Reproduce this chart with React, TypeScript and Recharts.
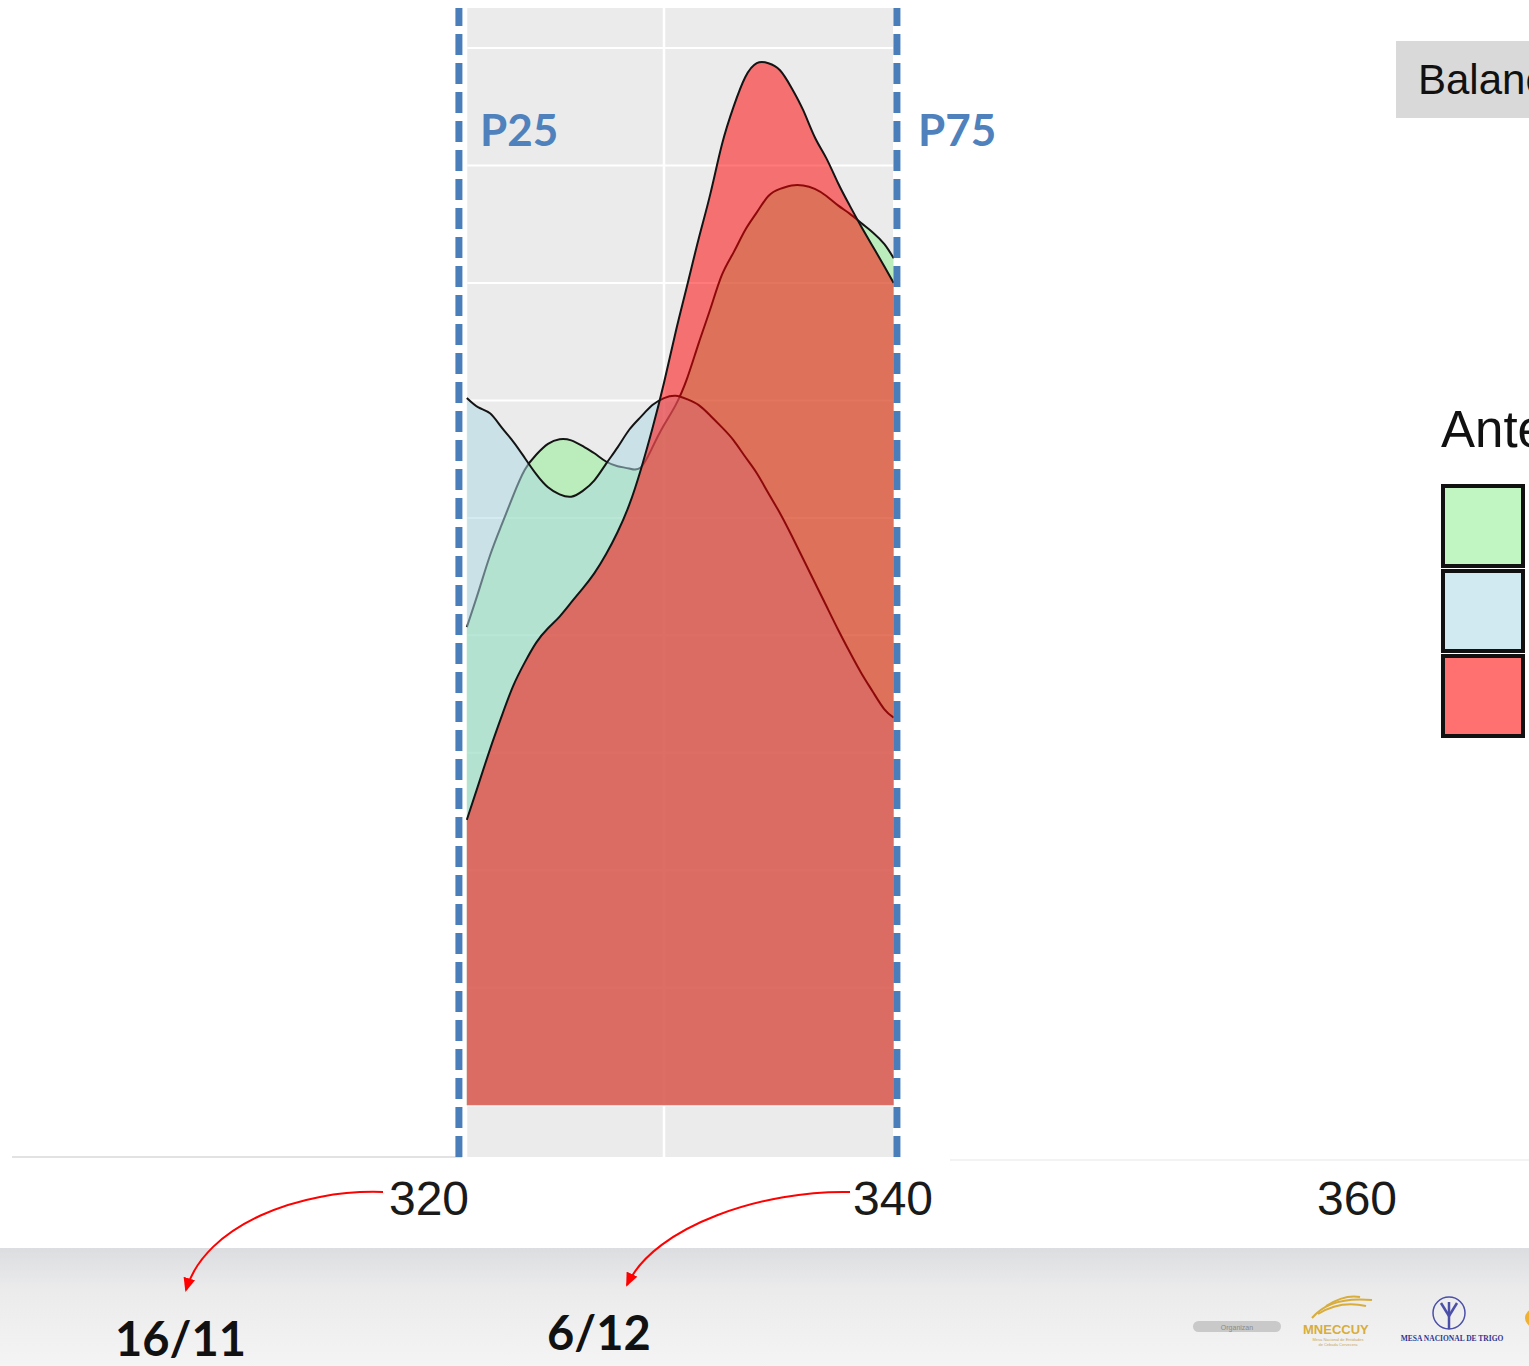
import React from "react";
import {
  ComposedChart,
  Area,
  XAxis,
  YAxis,
  ReferenceArea,
  ReferenceLine,
  Legend,
} from "recharts";

// día del año (eje x) y densidades (x100)
const dias = [
  321.5, 322, 322.5, 323, 323.5, 324, 324.5, 325, 325.5, 326, 326.5, 327, 327.5,
  328, 328.5, 329, 329.5, 330, 330.5, 331, 331.5, 332, 332.5, 333, 333.5, 334,
  334.5, 335, 335.5, 336, 336.5, 337, 337.5, 338, 338.5, 339, 339.5, 339.9,
];

const verde = [
  4.07, 4.37, 4.68, 4.94, 5.19, 5.41, 5.54, 5.63, 5.67, 5.66, 5.61, 5.55, 5.48,
  5.44, 5.42, 5.43, 5.6, 5.79, 5.96, 6.19, 6.49, 6.78, 7.07, 7.26, 7.45, 7.6,
  7.74, 7.8, 7.83, 7.83, 7.8, 7.74, 7.66, 7.59, 7.51, 7.43, 7.33, 7.21,
];

const celeste = [
  6.02, 5.94, 5.89, 5.77, 5.65, 5.51, 5.37, 5.26, 5.2, 5.18, 5.23, 5.32, 5.46,
  5.6, 5.75, 5.86, 5.96, 6.02, 6.04, 6.01, 5.96, 5.87, 5.77, 5.66, 5.52, 5.38,
  5.21, 5.04, 4.85, 4.65, 4.45, 4.25, 4.05, 3.86, 3.68, 3.52, 3.37, 3.3,
];

const rojo = [
  2.43, 2.73, 3.03, 3.31, 3.57, 3.77, 3.94, 4.06, 4.16, 4.28, 4.4, 4.53, 4.69,
  4.88, 5.11, 5.41, 5.76, 6.15, 6.58, 6.98, 7.38, 7.76, 8.18, 8.5, 8.75, 8.87,
  8.87, 8.81, 8.66, 8.47, 8.24, 8.06, 7.85, 7.66, 7.48, 7.31, 7.14, 7.0,
];

const ticksX = [320, 340, 360];
const gridY = [0, 1, 2, 3, 4, 5, 6, 7, 8, 9];
const gridX = [330];
const panelX = [321.52, 339.87];
const panelY = [-0.44, 9.34];

const percentiles = [
  { nombre: "P25", dia: 321.16 },
  { nombre: "P75", dia: 340.04 },
];

const series = [
  { key: "verde", fill: "#90ee90" },
  { key: "celeste", fill: "#add8e6" },
  { key: "rojo", fill: "#ff0000" },
];

const W = 1529;
const H = 1366;
const ALPHA = 0.52;

const TickX = (props: any) => {
  const { x, y, payload } = props;
  return (
    <text
      x={x - 3}
      y={y + 50}
      textAnchor="middle"
      fontSize={48}
      fontFamily="'Liberation Sans', Arial, sans-serif"
      fill="#1a1a1a"
    >
      {payload.value}
    </text>
  );
};

// fondo gris del panel con su grilla blanca
const Panel = (props: any) => {
  const { x, y, width, height } = props;
  const sy = (v: number) => y + ((panelY[1] - v) / (panelY[1] - panelY[0])) * height;
  const sx = (v: number) => x + ((v - panelX[0]) / (panelX[1] - panelX[0])) * width;
  return (
    <g>
      <rect x={x} y={y} width={width} height={height} fill="#ebebeb" />
      {gridY.map((v) => (
        <line key={"h" + v} x1={x} x2={x + width} y1={sy(v)} y2={sy(v)} stroke="#fff" strokeWidth={2} />
      ))}
      {gridX.map((v) => (
        <line key={"v" + v} x1={sx(v)} x2={sx(v)} y1={y} y2={y + height} stroke="#fff" strokeWidth={2.5} />
      ))}
    </g>
  );
};

const EtiquetaP = (nombre: string) => (props: any) => {
  const vb = props.viewBox || {};
  return (
    <text
      x={vb.x + 21}
      y={vb.y + 138}
      fontSize={44}
      fontWeight={700}
      fontFamily="Lato, 'Open Sans', sans-serif"
      fill="#4f81bd"
    >
      {nombre}
    </text>
  );
};

const LeyendaAntecesor = () => (
  <div style={{ fontFamily: "'Liberation Sans', Arial, sans-serif" }}>
    <div style={{ fontSize: 51, color: "#111", lineHeight: "60px", height: 84, whiteSpace: "nowrap" }}>
      Antecesor
    </div>
    {series.map((s) => (
      <div
        key={s.key}
        style={{
          width: 76,
          height: 76,
          border: "4px solid #111",
          background: "#fff",
          marginBottom: 1,
        }}
      >
        <div style={{ width: "100%", height: "100%", background: s.fill, opacity: ALPHA + 0.04 }} />
      </div>
    ))}
  </div>
);

const Pie = () => (
  <div
    style={{
      position: "absolute",
      left: 0,
      top: 1248,
      width: W,
      height: H - 1248,
      background: "linear-gradient(to bottom, #dcdde0 0%, #ebebec 35%, #f4f4f4 100%)",
    }}
  />
);

export default function App() {
  const data = dias.map((d, i) => ({
    dia: d,
    verde: verde[i],
    celeste: celeste[i],
    rojo: rojo[i],
  }));

  return (
    <div
      style={{
        position: "absolute",
        left: 0,
        top: 0,
        width: W,
        height: H,
        overflow: "hidden",
        background: "#fff",
        fontFamily: "'Liberation Sans', Arial, sans-serif",
      }}
    >
      <Pie />

      {/* tira gris de la faceta */}
      <div
        style={{
          position: "absolute",
          left: 1396,
          top: 41,
          width: 200,
          height: 77,
          background: "#d9d9d9",
          fontSize: 42,
          color: "#111",
          lineHeight: "77px",
          paddingLeft: 22,
          whiteSpace: "nowrap",
        }}
      >
        Balance hídrico
      </div>

      <div style={{ position: "absolute", left: 12, top: 1156, width: 450, height: 2, background: "#e2e2e2" }} />
      <div style={{ position: "absolute", left: 950, top: 1159, width: 580, height: 2, background: "#f3f3f3" }} />

      <div style={{ position: "absolute", left: 0, top: 0 }}>
        <ComposedChart
          width={W}
          height={1240}
          data={data}
          margin={{ top: 8, right: 29.8, left: 14.4, bottom: 0 }}
        >
          <XAxis
            dataKey="dia"
            type="number"
            domain={[302, 366]}
            ticks={ticksX}
            interval={0}
            allowDataOverflow
            axisLine={false}
            tickLine={false}
            height={83}
            tick={<TickX />}
          />
          <YAxis type="number" domain={panelY} hide allowDataOverflow />

          <ReferenceArea
            x1={panelX[0]}
            x2={panelX[1]}
            y1={panelY[0]}
            y2={panelY[1]}
            shape={<Panel />}
          />

          {series.map((s) => (
            <Area
              key={s.key}
              dataKey={s.key}
              type="natural"
              baseValue={0}
              fill={s.fill}
              fillOpacity={ALPHA}
              stroke="#141414"
              strokeWidth={2}
              isAnimationActive={false}
              dot={false}
              activeDot={false}
            />
          ))}

          {percentiles.map((p) => (
            <ReferenceLine
              key={p.nombre}
              x={p.dia}
              stroke="#4a7ebb"
              strokeWidth={7}
              strokeDasharray="21 8"
              label={EtiquetaP(p.nombre)}
            />
          ))}

          <Legend
            layout="horizontal"
            verticalAlign="middle"
            align="center"
            content={<LeyendaAntecesor />}
            wrapperStyle={{ left: 1441, top: 400, width: 200 }}
          />
        </ComposedChart>
      </div>

      <svg
        width={W}
        height={H}
        style={{ position: "absolute", left: 0, top: 0, pointerEvents: "none" }}
      >
        <defs>
          <marker
            id="punta"
            markerWidth="14"
            markerHeight="12"
            refX="12"
            refY="6"
            orient="auto"
            markerUnits="userSpaceOnUse"
          >
            <path d="M0,0 L14,6 L0,12 z" fill="#ff0000" />
          </marker>
        </defs>
        <path
          d="M383,1192 C300,1189 205,1225 186,1290"
          stroke="#ff0000"
          strokeWidth={2}
          fill="none"
          markerEnd="url(#punta)"
        />
        <path
          d="M850,1192 C765,1190 655,1225 627,1285"
          stroke="#ff0000"
          strokeWidth={2}
          fill="none"
          markerEnd="url(#punta)"
        />

        <text x={115} y={1356} fontSize={47} fontWeight={700} fontFamily="Lato, sans-serif" fill="#111">
          16/11
        </text>
        <text x={547} y={1350} fontSize={47} fontWeight={700} fontFamily="Lato, sans-serif" fill="#111">
          6/12
        </text>

        {/* logos del pie */}
        <rect x={1193} y={1321} width={88} height={11} rx={5.5} fill="#c9c9c9" />
        <text x={1237} y={1329.5} fontSize={7} textAnchor="middle" fill="#8a8a8a" fontFamily="'Liberation Sans', Arial">
          Organizan
        </text>
        <g stroke="#d8ad3c" strokeWidth={2} fill="none">
          <path d="M1312,1318 Q1330,1296 1372,1300" />
          <path d="M1318,1314 Q1340,1300 1366,1306" />
          <path d="M1326,1306 Q1345,1294 1360,1297" />
        </g>
        <text x={1303} y={1334} fontSize={13} fontWeight={700} fill="#d8ad3c" fontFamily="'Liberation Sans', Arial">
          MNECCUY
        </text>
        <text x={1338} y={1341} fontSize={4} textAnchor="middle" fill="#c9a85a">
          Mesa Nacional de Entidades
        </text>
        <text x={1338} y={1346} fontSize={4} textAnchor="middle" fill="#c9a85a">
          de Cebada Cervecera
        </text>
        <circle cx={1449} cy={1313} r={16} stroke="#4b4fa8" strokeWidth={1.5} fill="none" />
        <g stroke="#4b4fa8" strokeWidth={2.5} fill="none">
          <path d="M1449,1329 L1449,1302" />
          <path d="M1449,1316 L1441,1303" />
          <path d="M1449,1316 L1457,1303" />
        </g>
        <text x={1452} y={1341} fontSize={7.5} fontWeight={700} textAnchor="middle" fill="#2f3590" fontFamily="'Liberation Serif', serif">
          MESA NACIONAL DE TRIGO
        </text>
        <circle cx={1534} cy={1318} r={9} fill="#f0b030" />
      </svg>
    </div>
  );
}
